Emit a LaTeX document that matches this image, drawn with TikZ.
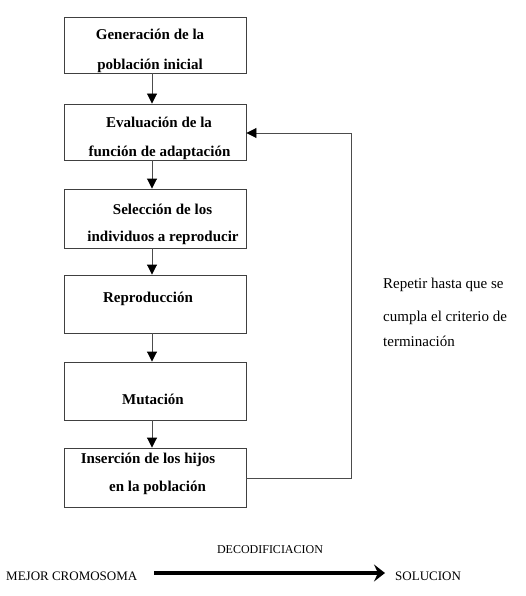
\documentclass[tikz,border=0pt]{standalone}
\usepackage{fontspec}
\setmainfont{Liberation Serif}
\usetikzlibrary{arrows.meta}
\begin{document}
\begin{tikzpicture}[x=1pt,y=-1pt,
  box/.style={draw=black!75,line width=0.9pt,minimum width=182pt,inner sep=0pt},
  btxt/.style={inner sep=0pt,anchor=base,font=\fontsize{15}{18}\selectfont\bfseries},
  rtxt/.style={inner sep=0pt,anchor=base west,font=\fontsize{15}{18}\selectfont},
  stxt/.style={inner sep=0pt,anchor=base west,font=\fontsize{13}{16}\selectfont},
  flow/.style={draw=black!70,line width=0.9pt,-{Triangle[length=10pt,width=10pt,black]}},
  big/.style={line width=3.4pt,-{Stealth[length=11pt,width=17pt,inset=4pt]}}]
\useasboundingbox (0,0) rectangle (526,596);
% boxes
\node[box,minimum height=56pt] (b1) at (155,45) {};
\node[box,minimum height=56pt] (b2) at (155,132) {};
\node[box,minimum height=59pt] (b3) at (155,218.5) {};
\node[box,minimum height=58pt] (b4) at (155,304) {};
\node[box,minimum height=58pt] (b5) at (155,391) {};
\node[box,minimum height=59pt] (b6) at (155,477.5) {};
% box texts
\node[btxt] (t1a) at (150,40) {Generación de la};
\node[btxt] (t1b) at (150,69.5) {población inicial};
\node[btxt] (t2a) at (159,128) {Evaluación de la};
\node[btxt] (t2b) at (159.5,157) {función de adaptación};
\node[btxt] (t3a) at (162.5,214) {Selección de los};
\node[btxt] (t3b) at (163,241.5) {individuos a reproducir};
\node[btxt] (t4) at (148,302) {Reproducción};
\node[btxt] (t5) at (153,404) {Mutación};
\node[btxt] (t6a) at (148,463) {Inserción de los hijos};
\node[btxt] (t6b) at (157.5,491) {en la población};
% vertical arrows
\coordinate (ax) at (152,0);
\draw[flow] (b1.south -| ax) -- (b2.north -| ax);
\draw[flow] (b2.south -| ax) -- (b3.north -| ax);
\draw[flow] (b3.south -| ax) -- (b4.north -| ax);
\draw[flow] (b4.south -| ax) -- (b5.north -| ax);
\draw[flow] (b5.south -| ax) -- (b6.north -| ax);
% feedback loop
\coordinate (lo) at (351,478);
\coordinate (hi) at (351,133);
\draw[flow] (b6.east |- lo) -- (lo) -- (hi) -- (b2.east |- hi);
% side text
\node[rtxt] (r1) at (383,288) {Repetir hasta que se};
\node[rtxt] (r2) at (383,321) {cumpla el criterio de};
\node[rtxt] (r3) at (383,346.5) {terminación};
% bottom
\node[inner sep=0pt,anchor=base,font=\fontsize{12}{14}\selectfont] (dec) at (270,553) {DECODIFICIACION};
\node[stxt] (mc) at (6,580) {MEJOR CROMOSOMA};
\node[stxt] (sol) at (395,580) {SOLUCION};
\coordinate (as) at (154,573);
\coordinate (ae) at (385,573);
\draw[big] (as) -- (ae);
\end{tikzpicture}
\end{document}
